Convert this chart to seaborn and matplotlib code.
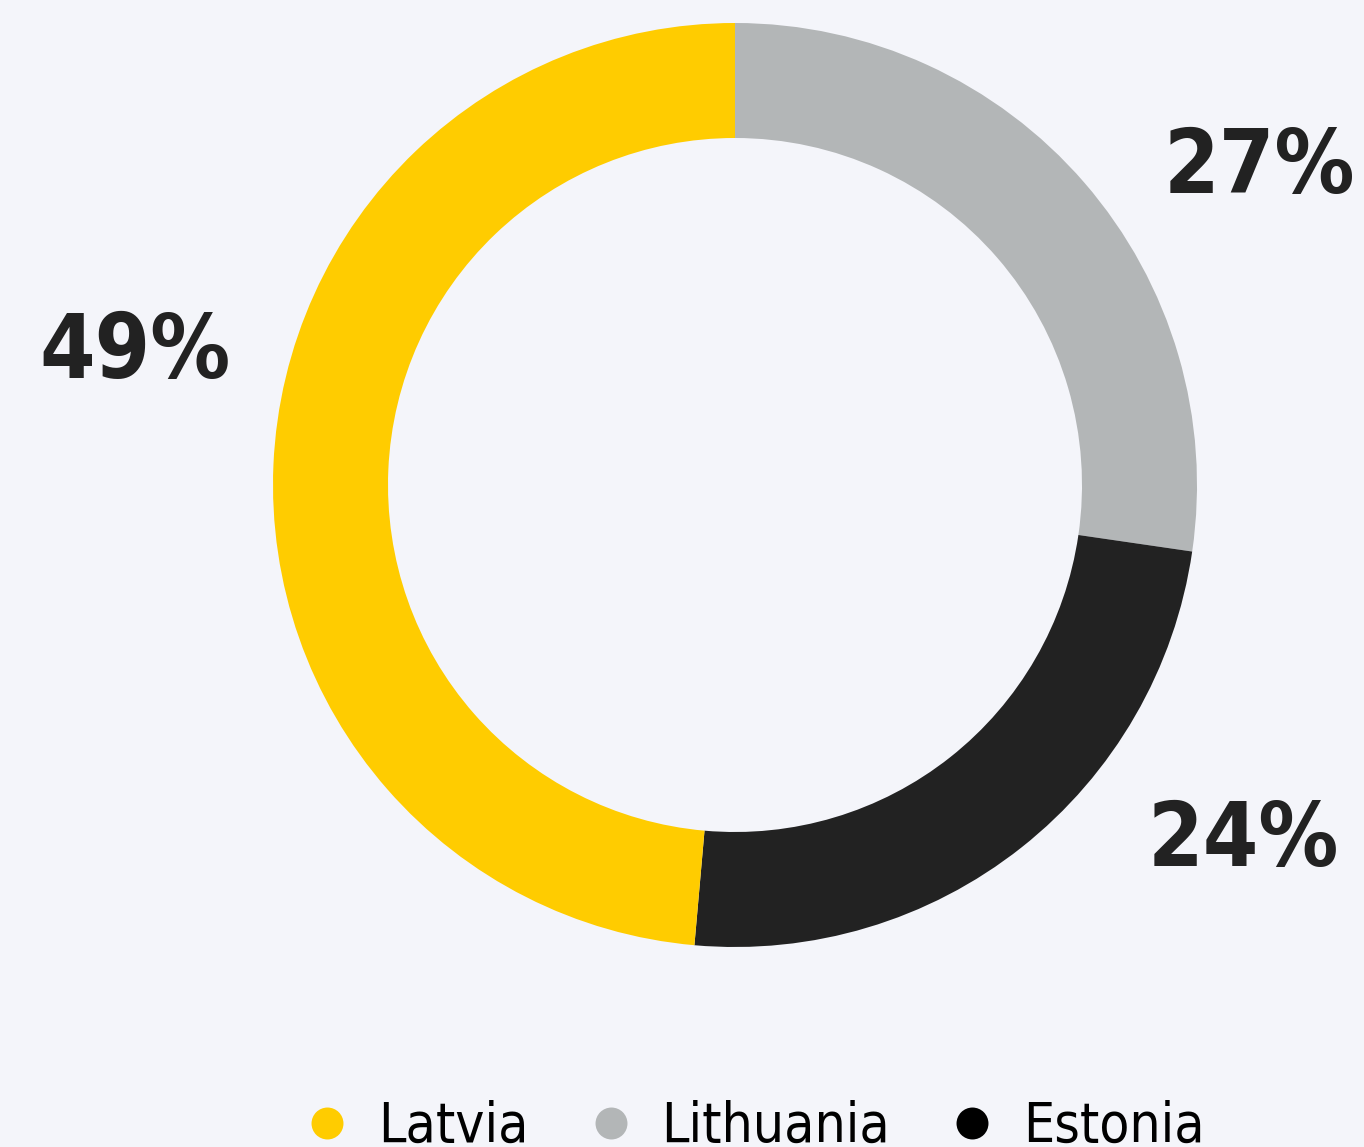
import numpy as np
import matplotlib
matplotlib.use('Agg')
import matplotlib.pyplot as plt
from matplotlib.lines import Line2D
import seaborn as sns

# data: clockwise from 12 o'clock
countries = ['Lithuania', 'Estonia', 'Latvia']
shares = [27.3, 24.1, 48.6]
share_labels = ['27%', '24%', '49%']
colors = ['#B3B6B7', '#222222', '#FFCC00']
legend_order = ['Latvia', 'Lithuania', 'Estonia']
legend_colors = ['#FFCC00', '#B3B6B7', '#000000']
# label anchors (centre x, baseline y) in ring radii
label_xy = [(1.136, 0.632), (1.100, -0.825), (-1.298, 0.232)]

BG = '#F4F5FA'
sns.set_theme(style='white')
plt.rcParams['font.family'] = ['DejaVu Sans']

W, H = 1364, 1147
fig = plt.figure(figsize=(W / 100, H / 100), dpi=100, facecolor=BG)
cx, cy, R = 735, 485, 462
ax = fig.add_axes([(cx - R) / W, (H - cy - R) / H, 2 * R / W, 2 * R / H])
ax.set_facecolor(BG)
# ring width: outer radius 462 px, inner 347 px
ax.pie(shares, colors=colors, startangle=90, counterclock=False, radius=1,
       wedgeprops=dict(width=1 - 347 / 462, linewidth=0))
ax.set_xlim(-1, 1)
ax.set_ylim(-1, 1)
ax.set_aspect('equal')
ax.axis('off')

for lab, (x, y) in zip(share_labels, label_xy):
    ax.text(x, y, lab, ha='center', va='baseline', fontsize=64,
            fontweight='bold', fontstretch='condensed', color='#222222',
            clip_on=False)

handles = [Line2D([], [], marker='o', linestyle='', markersize=23,
                  markerfacecolor=c, markeredgewidth=0) for c in legend_colors]
fig.legend(handles, legend_order, loc='center', ncol=3,
           bbox_to_anchor=(0.5555, 1 - 1127 / H), frameon=False,
           prop=dict(family='DejaVu Sans', stretch='condensed', size=39.5),
           handletextpad=0.62, columnspacing=1.2, handlelength=0.6,
           borderpad=0, borderaxespad=0, labelcolor='#000000')

fig.savefig('out.png', dpi=100, facecolor=BG)
